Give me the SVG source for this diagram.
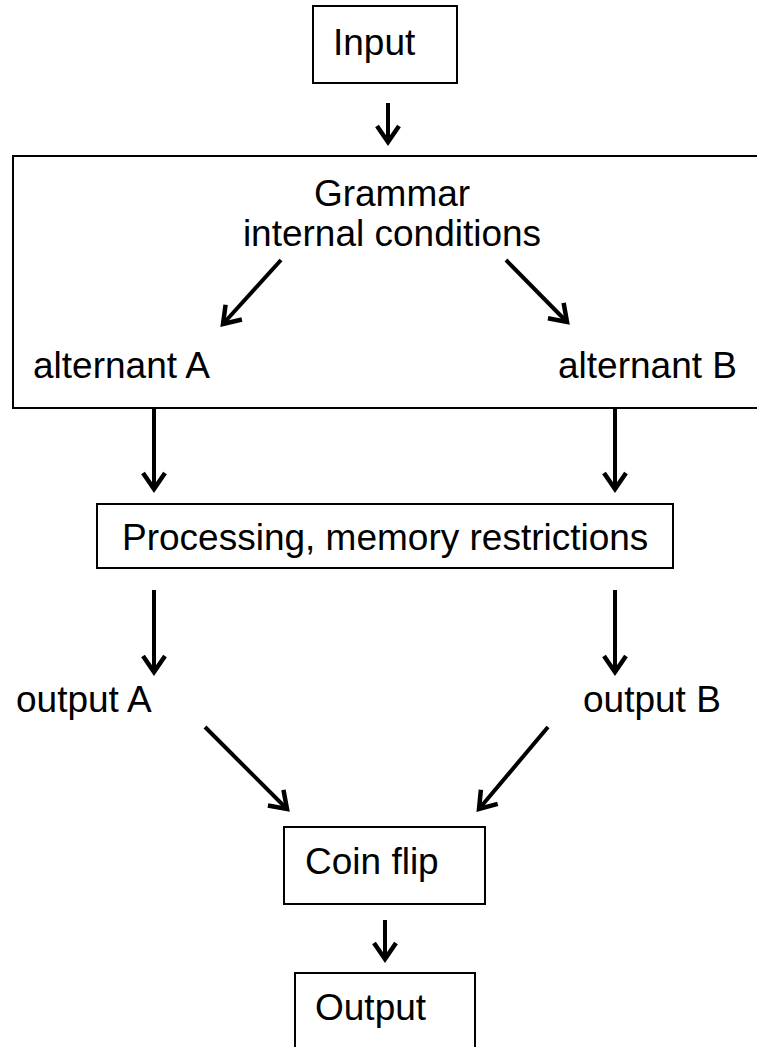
<svg xmlns="http://www.w3.org/2000/svg" width="757" height="1047" viewBox="0 0 757 1047">
<style>
.box{fill:#fff;stroke:#000;stroke-width:2}
.t{font-family:"Liberation Sans",Arial,sans-serif;font-size:37px;fill:#000}
.c{text-anchor:middle}
.arr{stroke:#000;stroke-width:4;fill:none;marker-end:url(#ah)}
</style>
<defs>
<marker id="ah" markerUnits="userSpaceOnUse" orient="auto" refX="0" refY="0" markerWidth="40" markerHeight="40" viewBox="-20 -20 40 40" overflow="visible">
<path d="M-16,-11 L0,0 L-16,11" fill="none" stroke="#000" stroke-width="4.5" stroke-linejoin="miter"/>
</marker>
</defs>
<rect width="757" height="1047" fill="#fff"/>
<g id="input"><rect class="box" x="313" y="6" width="144" height="77"/><text class="t" x="333" y="55">Input</text></g>
<g id="grammar"><rect class="box" x="13" y="156" width="760" height="252"/>
<text class="t c" x="392" y="206">Grammar</text>
<text class="t c" x="392" y="246">internal conditions</text></g>
<g id="altA"><text class="t" x="33" y="378">alternant A</text></g>
<g id="altB"><text class="t" x="558" y="378">alternant B</text></g>
<g id="processing"><rect class="box" x="97" y="504" width="576" height="64"/><text class="t" x="122" y="550">Processing, memory restrictions</text></g>
<g id="outA"><text class="t" x="16" y="712">output A</text></g>
<g id="outB"><text class="t" x="583" y="712">output B</text></g>
<g id="coin"><rect class="box" x="284" y="827" width="201" height="77"/><text class="t" x="305" y="874">Coin flip</text></g>
<g id="output"><rect class="box" x="295" y="973" width="180" height="90"/><text class="t" x="315" y="1020">Output</text></g>
<g id="connectors">
<line class="arr" x1="388" y1="103" x2="388" y2="142"/>
<line class="arr" x1="281" y1="260" x2="223" y2="324"/>
<line class="arr" x1="506" y1="260" x2="567" y2="322"/>
<line class="arr" x1="154" y1="408" x2="154" y2="489"/>
<line class="arr" x1="615" y1="408" x2="615" y2="489"/>
<line class="arr" x1="154" y1="590" x2="154" y2="672"/>
<line class="arr" x1="615" y1="590" x2="615" y2="672"/>
<line class="arr" x1="205" y1="727" x2="287" y2="809"/>
<line class="arr" x1="548" y1="727" x2="479" y2="809"/>
<line class="arr" x1="385" y1="920" x2="385" y2="959"/>
</g>
</svg>
